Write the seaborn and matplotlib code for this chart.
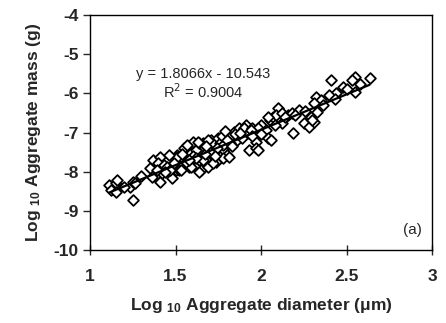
import numpy as np
import pandas as pd
import matplotlib
matplotlib.use("Agg")
import matplotlib.pyplot as plt
import seaborn as sns

# ---- data ----
log_diameter = [
    1.11, 1.12, 1.15, 1.16, 1.15, 1.235, 1.25, 1.265, 1.25, 1.35, 1.37, 1.41, 1.40, 1.43,
    1.365, 1.41, 1.48, 1.42, 1.45, 1.51, 1.52, 1.50,
    1.52, 1.56, 1.60, 1.58, 1.62, 1.64, 1.65, 1.66, 1.69, 1.71, 1.72, 1.75, 1.76, 1.78,
    1.76, 1.80, 1.735, 1.69, 1.66, 1.84, 1.86, 1.87, 1.91, 1.92, 1.93, 1.82, 1.59, 1.55,
    1.51, 1.62, 1.64, 1.63, 1.69, 1.78, 1.64, 1.59, 1.69, 1.72, 1.78, 1.81, 1.53, 1.56,
    1.49, 1.46, 1.55, 1.57,
    1.90, 1.95, 1.93, 1.89, 1.97, 1.97, 1.98, 2.00, 2.03, 2.04, 2.05, 2.07, 2.10, 2.09,
    2.12, 2.12, 2.16, 2.18, 2.22, 2.19, 2.25, 2.28, 2.29, 2.31, 2.32, 2.33, 2.41, 2.55,
    2.53, 2.635, 2.48, 2.44, 2.40, 2.35, 2.55, 2.31, 2.30, 1.98, 2.04, 1.94,
    1.70, 1.74, 1.77, 1.80, 1.83, 1.85, 1.88, 1.60, 1.67, 1.73, 1.68, 1.62, 1.58, 1.54,
    1.47, 1.44, 1.39, 1.20, 1.30, 1.79, 1.95, 2.08, 2.14, 2.20, 2.26, 2.36, 2.43, 2.50,
    2.58, 2.06, 2.00,
]
log_mass = [
    -8.34, -8.46, -8.29, -8.21, -8.52, -8.39, -8.26, -8.29, -8.72, -7.90, -7.70, -7.62, -7.78, -7.83,
    -8.13, -8.26, -8.16, -8.03, -7.88, -7.57, -7.83, -7.95,
    -7.95, -7.52, -7.24, -7.88, -7.88, -7.70, -7.95, -7.27, -7.44, -7.19, -7.27, -7.14, -7.27, -7.44,
    -7.62, -7.57, -7.75, -7.75, -7.70, -6.98, -7.19, -6.88, -6.80, -7.00, -7.44, -7.27, -7.52, -7.70,
    -7.62, -7.44, -7.27, -7.24, -7.19, -7.32, -8.00, -7.88, -7.88, -7.78, -7.65, -7.62, -7.95, -7.75,
    -7.78, -7.57, -7.40, -7.32,
    -6.88, -6.88, -7.00, -7.14, -7.24, -7.40, -7.44, -6.80, -6.93, -7.14, -6.68, -6.60, -6.37, -6.55,
    -6.76, -6.50, -6.55, -6.50, -6.42, -7.00, -6.76, -6.86, -6.60, -6.73, -6.09, -6.47, -5.66, -5.58,
    -5.66, -5.60, -5.84, -6.00, -6.04, -6.17, -5.96, -6.25, -6.68, -6.88, -6.60, -6.93,
    -7.50, -7.40, -7.10, -7.20, -7.35, -7.05, -7.00, -7.60, -7.55, -7.60, -7.35, -7.65, -7.70, -7.55,
    -7.95, -8.00, -7.95, -8.40, -8.10, -6.95, -7.10, -6.80, -6.60, -6.55, -6.45, -6.30, -6.15, -5.90,
    -5.75, -7.20, -7.05,
]
fit_slope = 1.8066
fit_intercept = -10.543
fit_r2 = 0.9004

x_ticks = [1, 1.5, 2, 2.5, 3]
x_tick_labels = ["1", "1.5", "2", "2.5", "3"]
y_ticks = [-10, -9, -8, -7, -6, -5, -4]

df = pd.DataFrame({"diameter": log_diameter, "mass": log_mass})

sns.set_style("ticks")
plt.rcParams["font.family"] = ["Liberation Sans", "DejaVu Sans"]
plt.rcParams["axes.unicode_minus"] = False
plt.rcParams["mathtext.fontset"] = "custom"
plt.rcParams["mathtext.rm"] = "Liberation Sans:bold"
plt.rcParams["mathtext.it"] = "Liberation Sans:bold"
plt.rcParams["mathtext.bf"] = "Liberation Sans:bold"

fig = plt.figure(figsize=(4.46, 3.23), dpi=100)
ax = fig.add_axes([90 / 446, 1 - 250 / 323, (432 - 90) / 446, (250 - 15) / 323])

sns.scatterplot(data=df, x="diameter", y="mass", ax=ax, marker="D", s=30,
                color="white", edgecolor="black", linewidth=1.3, zorder=3)

xs = np.linspace(min(log_diameter), max(log_diameter), 50)
sns.lineplot(x=xs, y=fit_slope * xs + fit_intercept, ax=ax, color="black",
             linewidth=1.6, zorder=4)

ax.set_xlim(1, 3)
ax.set_ylim(-10, -4)
ax.set_xticks(x_ticks)
ax.set_xticklabels(x_tick_labels)
ax.set_yticks(y_ticks)
ax.set_yticklabels([str(v) for v in y_ticks])
for lab in ax.get_xticklabels() + ax.get_yticklabels():
    lab.set_fontweight("bold")
    lab.set_fontsize(12.5)

ax.tick_params(axis="x", direction="inout", length=7, width=1, pad=10)
ax.tick_params(axis="y", direction="out", length=5, width=1, pad=3)
for sp in ax.spines.values():
    sp.set_linewidth(1.0)
    sp.set_color("black")

ax.set_xlabel(r"Log $_{\mathrm{10}}$ Aggregate diameter ($\mu$m)", fontsize=12.5,
              fontweight="bold", labelpad=9)
ax.set_ylabel(r"Log $_{\mathrm{10}}$ Aggregate mass (g)", fontsize=12.5,
              fontweight="bold", labelpad=8)

ax.text(0.33, 0.75, f"y = {fit_slope}x - {abs(fit_intercept)}", transform=ax.transAxes,
        ha="center", va="center", fontsize=10.5)
ax.text(0.33, 0.672, f"R$^2$ = {fit_r2}", transform=ax.transAxes,
        ha="center", va="center", fontsize=10.5, math_fontfamily="dejavusans")
ax.text(0.97, 0.085, "(a)", transform=ax.transAxes, ha="right", va="center", fontsize=11)

fig.savefig("out.png", dpi=100)
